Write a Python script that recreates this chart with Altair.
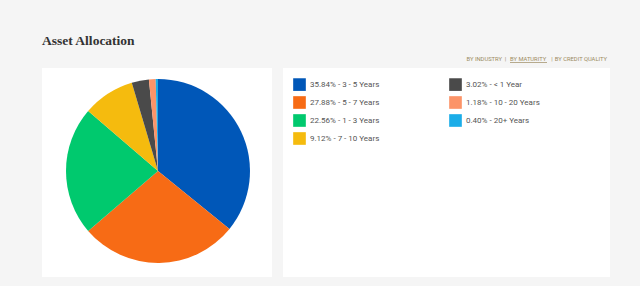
import altair as alt
import pandas as pd

# ---- data ----
maturity = ["3 - 5 Years", "5 - 7 Years", "1 - 3 Years", "7 - 10 Years",
            "< 1 Year", "10 - 20 Years", "20+ Years"]
weights = [35.84, 27.88, 22.56, 9.12, 3.02, 1.18, 0.40]
colors = ["#0057b8", "#f76b15", "#00c96e", "#f5bb0e", "#4a4a4a", "#fc9468", "#1bade8"]
title_text = ["Asset Allocation"]
link_items = ["BY INDUSTRY", "BY MATURITY", "BY CREDIT QUALITY"]
separator = ["|"]

labels = [f"{w:.2f}% - {m}" for w, m in zip(weights, maturity)]
df = pd.DataFrame({"label": labels, "weight": weights, "order": list(range(len(labels)))})

W, H = 640, 286
BG = "#f5f5f5"
GOLD = "#9b8a60"

panels = pd.DataFrame({"x": [42, 283], "x2": [272, 610], "y": [68, 68], "y2": [277, 277]})
panel_layer = alt.Chart(panels).mark_rect(color="white").encode(
    x=alt.X("x:Q", scale=alt.Scale(domain=[0, W], range=[0, W]), axis=None),
    x2="x2:Q",
    y=alt.Y("y:Q", scale=alt.Scale(domain=[0, H], range=[0, H]), axis=None),
    y2="y2:Q",
)

title_layer = alt.Chart(pd.DataFrame({"t": title_text})).mark_text(
    align="left", baseline="alphabetic", font="Liberation Serif", fontWeight="bold",
    fontSize=13.5, color="#333333"
).encode(text="t:N", x=alt.value(42), y=alt.value(45))

def link(txt, x, align):
    return alt.Chart(pd.DataFrame({"t": [txt]})).mark_text(
        align=align, baseline="alphabetic", font="Roboto", fontSize=5.8, color=GOLD
    ).encode(text="t:N", x=alt.value(x), y=alt.value(61))

links_layer = alt.layer(
    link(link_items[0], 502, "right"),
    link(separator[0], 505.5, "center"),
    link(link_items[1], 510, "left"),
    link(separator[0], 552, "center"),
    link(link_items[2], 607, "right"),
)

underline = alt.Chart(pd.DataFrame({"a": [0]})).mark_rule(color=GOLD, strokeWidth=0.7).encode(
    x=alt.value(510), x2=alt.value(547), y=alt.value(62.5)
)

pie = alt.Chart(df).mark_arc(outerRadius=92).encode(
    theta=alt.Theta("weight:Q", stack=True),
    order=alt.Order("order:Q"),
    color=alt.Color(
        "label:N",
        scale=alt.Scale(domain=labels, range=colors),
        legend=alt.Legend(
            title=None, orient="none", legendX=293, legendY=78, columns=2,
            symbolType="square", symbolSize=160, symbolStrokeWidth=0,
            labelFont="Roboto", labelFontSize=8, labelColor="#555555",
            labelOffset=4, rowPadding=5, columnPadding=69, labelLimit=200,
        ),
    ),
    x=alt.value(158), y=alt.value(171),
)

chart = alt.layer(panel_layer, title_layer, links_layer, underline, pie).properties(
    width=W, height=H, background=BG, padding=0,
    autosize=alt.AutoSizeParams(type="none"),
).configure_view(stroke=None, fill=None)

chart.save("out.html", embed_options={"renderer": "svg", "actions": False})
